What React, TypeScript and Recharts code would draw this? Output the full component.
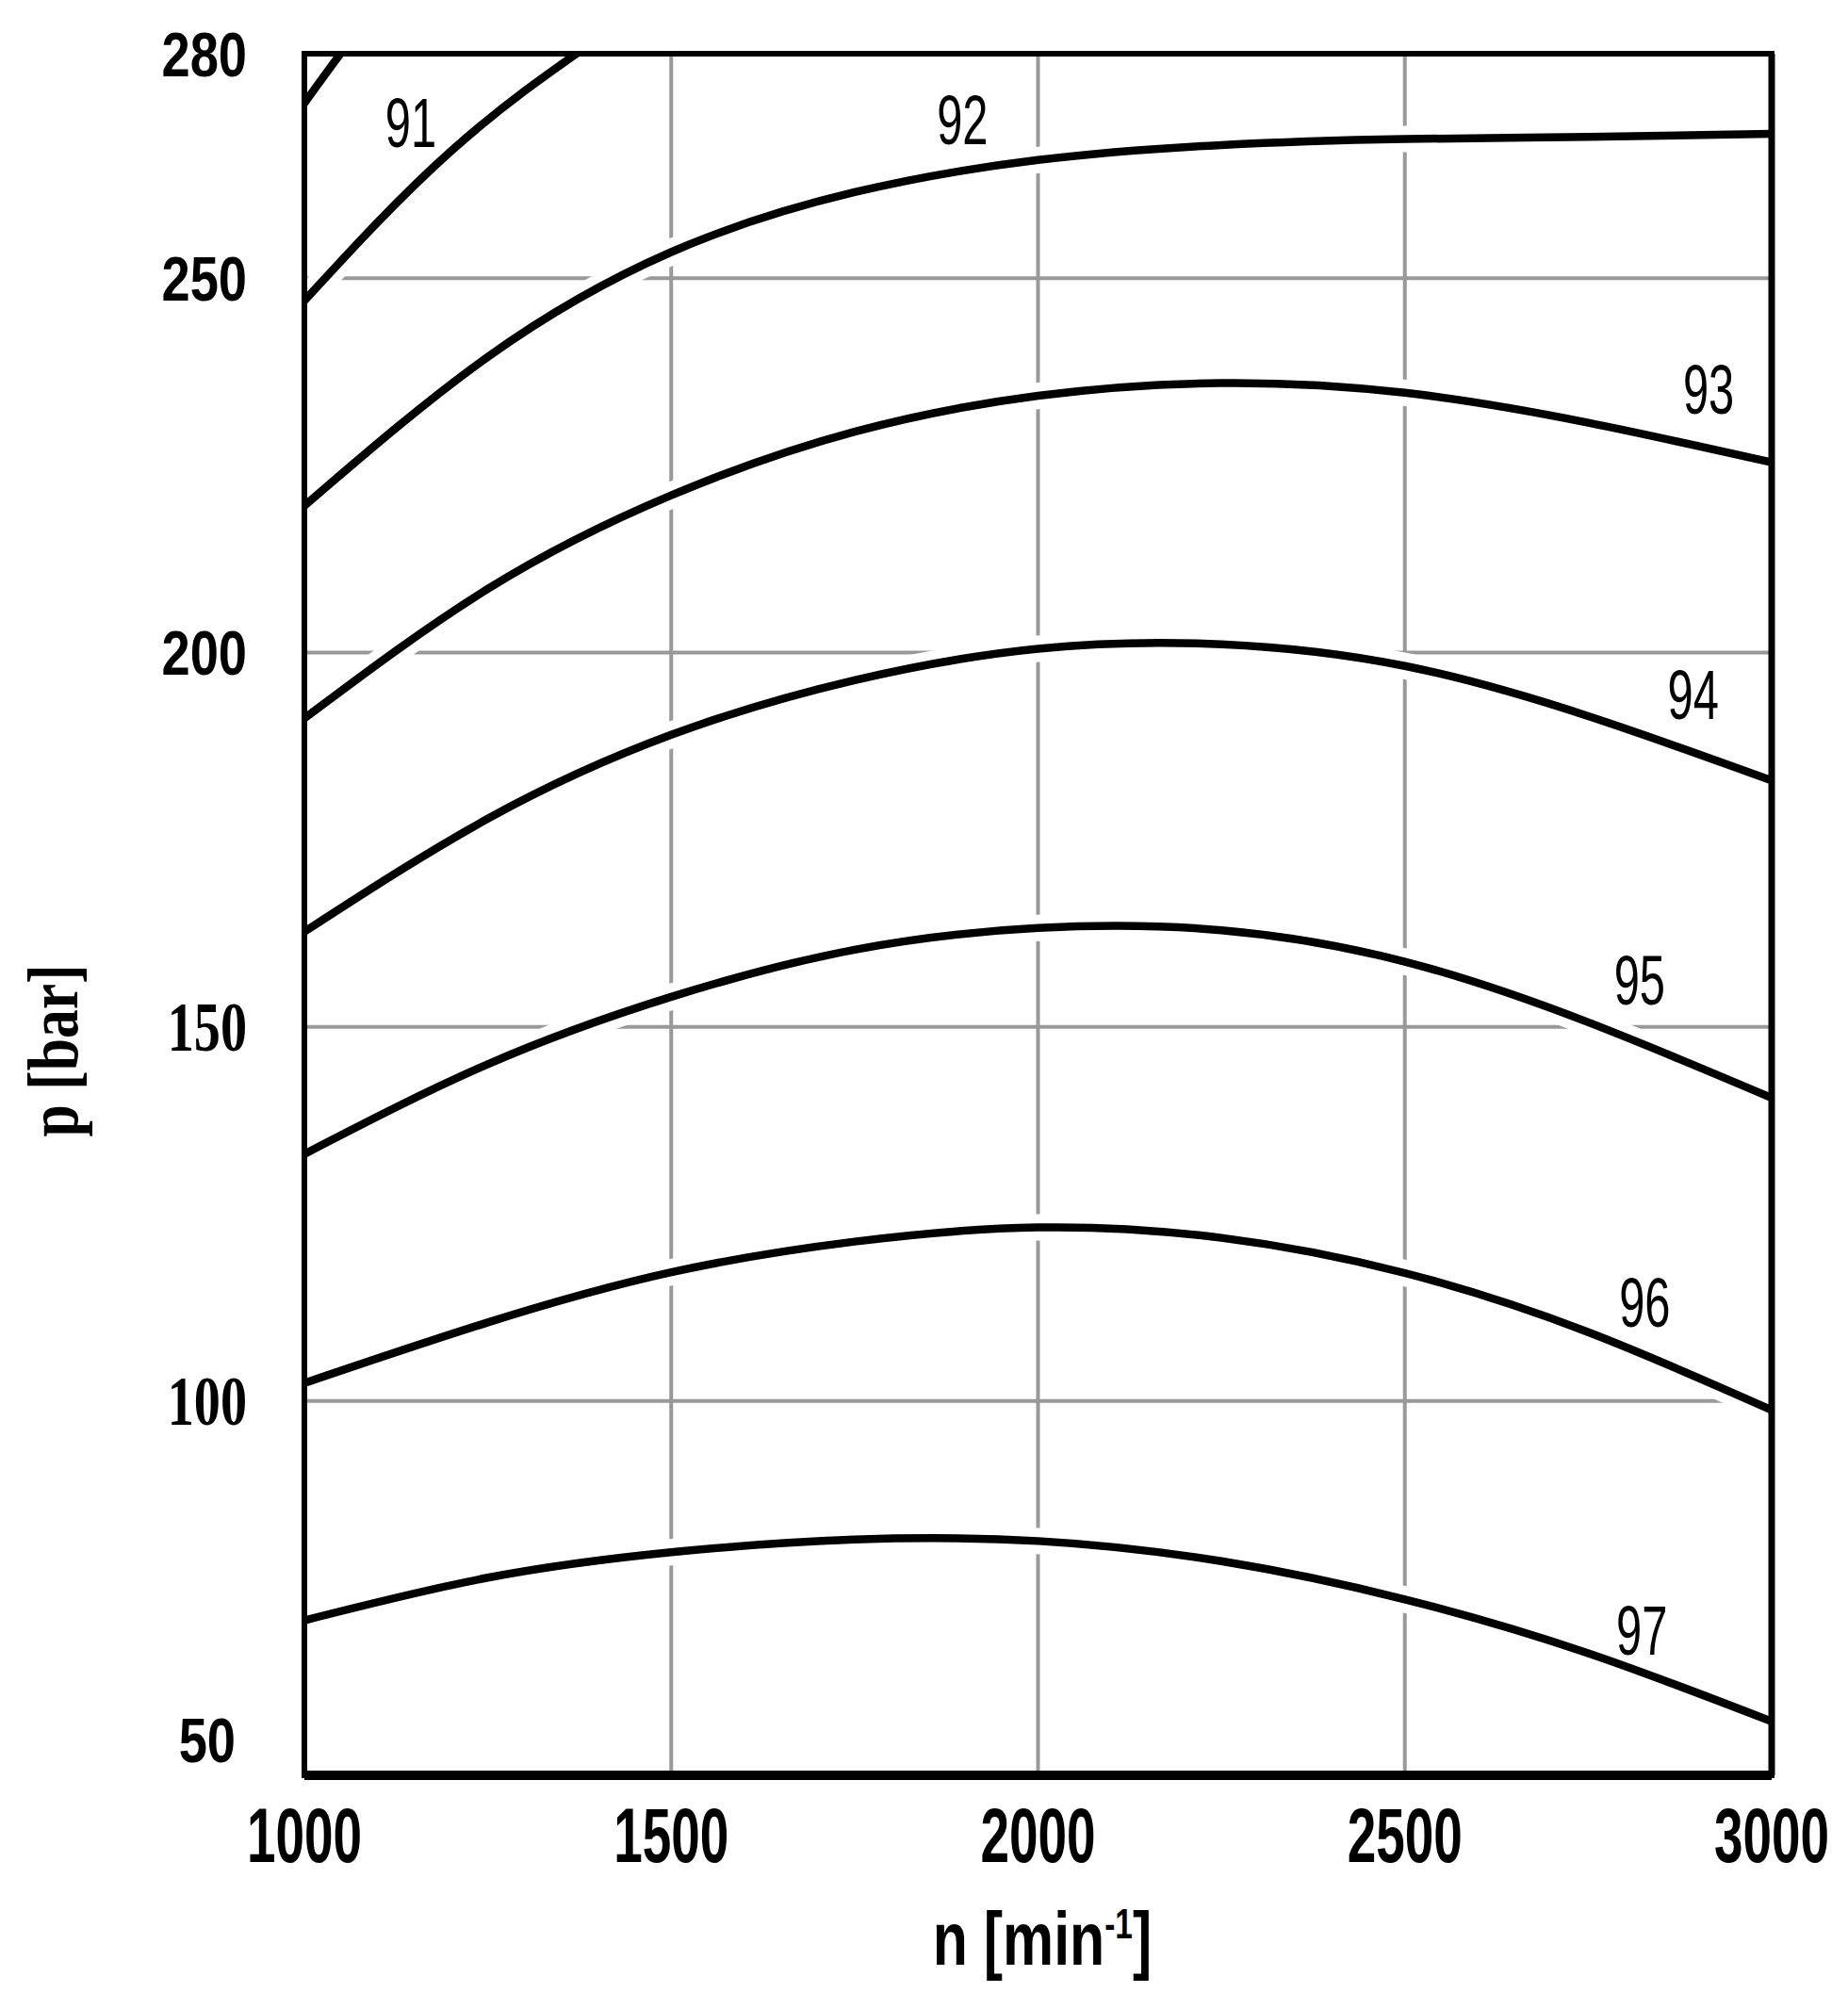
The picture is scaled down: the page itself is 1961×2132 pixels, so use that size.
import React from 'react';
import { LineChart, Line, XAxis, YAxis, CartesianGrid, ReferenceArea, ReferenceLine, ReferenceDot } from 'recharts';

// speed n [min^-1]
const rpm = [1000, 1250, 1500, 1750, 2000, 2250, 2500, 2750, 3000];
// pressure p [bar] of each efficiency contour
const eta92 = [219.6, 239.5, 253.5, 261.5, 265.8, 267.8, 268.6, 268.9, 269.3];
const eta93 = [191.2, 208.5, 221, 229.5, 234.3, 236, 234.7, 230.7, 225.4];
const eta94 = [162.7, 177.8, 189, 196.3, 200.5, 201.1, 198.2, 191.5, 182.9];
const eta95 = [133, 145, 154, 160.3, 163.2, 162.9, 158.7, 150.6, 140.5];
const eta96 = [102.4, 110.5, 117.2, 121.3, 123.2, 121.8, 117.1, 109.2, 98.8];
const eta97 = [70.7, 76.4, 79.8, 81.5, 81.3, 78.6, 73.5, 66.3, 57.2];
const rpm91 = [1000, 1100, 1200, 1300, 1400];
const eta91 = [247, 257.5, 267, 275, 282];
const rpm90 = [1000, 1050, 1100];
const eta90 = [273.4, 280.1, 286.5];

const xTicks = [1000, 1500, 2000, 2500, 3000];
const yTicks = [50, 100, 150, 200, 250, 280];

const curveLabels = ['91', '92', '93', '94', '95', '96', '97'];
const labelRpm = [1145, 1897, 2914, 2893, 2820, 2827, 2823];
const labelBar = [270.9, 271.2, 235.3, 194.5, 156.3, 113.2, 69.4];

const toRows = (xs: number[], ys: number[]) => xs.map((x, i) => ({ n: x, p: ys[i] }));

const series = [
  toRows(rpm90, eta90),
  toRows(rpm91, eta91),
  toRows(rpm, eta92),
  toRows(rpm, eta93),
  toRows(rpm, eta94),
  toRows(rpm, eta95),
  toRows(rpm, eta96),
  toRows(rpm, eta97),
];

const SANS = '"Liberation Sans", Arial, sans-serif';
const SERIF = '"Liberation Serif", "Times New Roman", serif';

const XTick = (props: any) => {
  const { x, y, payload } = props;
  return (
    <text
      transform={`translate(${x},${y + 63 + 29}) scale(0.67,1)`}
      textAnchor="middle"
      fontSize={82}
      fontWeight="bold"
      fontFamily={SANS}
      fill="#000"
    >
      {payload.value}
    </text>
  );
};

const YTick = (props: any) => {
  const { x, y, payload } = props;
  const v = payload.value;
  const serif = v === 100 || v === 150;
  const dx = v === 50 ? -73 : -61;
  const dy = v === 50 ? -38 : 0;
  const size = serif ? 74 : 67;
  const base = serif ? 0.338 * size : 0.358 * size;
  return (
    <text
      transform={`translate(${x + dx},${y + dy + base}) scale(${serif ? 0.76 : 0.81},1)`}
      textAnchor="end"
      fontSize={size}
      fontWeight="bold"
      fontFamily={serif ? SERIF : SANS}
      fill="#000"
    >
      {v}
    </text>
  );
};

const makeLabelShape = (text: string) => (props: any) => {
  const { cx, cy } = props;
  return (
    <text
      transform={`translate(${cx},${cy + 0.358 * 74}) scale(0.66,1)`}
      textAnchor="middle"
      fontSize={74}
      fontFamily={SANS}
      fill="#000"
    >
      {text}
    </text>
  );
};

export default function App() {
  return (
    <div style={{ position: 'absolute', left: 0, top: 0, width: 1961, height: 2132, background: '#fff' }}>
      <LineChart width={1961} height={2132} margin={{ top: 57, right: 81, bottom: 0, left: 0 }}>
        <CartesianGrid stroke="#999999" strokeWidth={4} />
        <XAxis
          dataKey="n"
          type="number"
          domain={[1000, 3000]}
          ticks={xTicks}
          allowDataOverflow
          height={248}
          axisLine={false}
          tickLine={false}
          tickSize={0}
          tickMargin={0}
          tick={<XTick />}
          interval={0}
        />
        <YAxis
          type="number"
          domain={[50, 280]}
          ticks={yTicks}
          allowDataOverflow
          width={323}
          axisLine={false}
          tickLine={false}
          tickSize={0}
          tickMargin={0}
          tick={<YTick />}
          interval={0}
        />
        {series.map((rows, i) => (
          <Line
            key={'halo' + i}
            data={rows}
            dataKey="p"
            type="natural"
            stroke="#ffffff"
            strokeWidth={28}
            dot={false}
            activeDot={false}
            isAnimationActive={false}
          />
        ))}
        {series.map((rows, i) => (
          <Line
            key={'line' + i}
            data={rows}
            dataKey="p"
            type="natural"
            stroke="#000000"
            strokeWidth={8.5}
            dot={false}
            activeDot={false}
            isAnimationActive={false}
          />
        ))}
        <ReferenceArea
          x1={1000}
          x2={3000}
          y1={50}
          y2={280}
          fill="none"
          fillOpacity={0}
          stroke="#000"
          strokeWidth={6}
          ifOverflow="visible"
          zIndex={1000}
        />
        <ReferenceLine y={50} stroke="#000" strokeWidth={10} ifOverflow="visible" zIndex={1001} />
        <ReferenceLine x={3000} stroke="#000" strokeWidth={7} ifOverflow="visible" zIndex={1001} />
        {curveLabels.map((t, i) => (
          <ReferenceDot
            key={'lab' + t}
            x={labelRpm[i]}
            y={labelBar[i]}
            r={0}
            ifOverflow="visible"
            shape={makeLabelShape(t)}
            zIndex={1002}
          />
        ))}
      </LineChart>
      <svg width={1961} height={2132} style={{ position: 'absolute', left: 0, top: 0, pointerEvents: 'none' }}>
        <text
          transform="translate(1106,2085) scale(0.76,1)"
          textAnchor="middle"
          fontSize={80}
          fontWeight="bold"
          fontFamily={SANS}
          fill="#000"
        >
          n [min
          <tspan dy={-28} fontSize={44}>-1</tspan>
          <tspan dy={28}>]</tspan>
        </text>
        <text
          transform="translate(82,1115) rotate(-90) scale(0.81,1)"
          textAnchor="middle"
          fontSize={76}
          fontWeight="bold"
          fontFamily={SERIF}
          fill="#000"
        >
          p [bar]
        </text>
      </svg>
    </div>
  );
}
